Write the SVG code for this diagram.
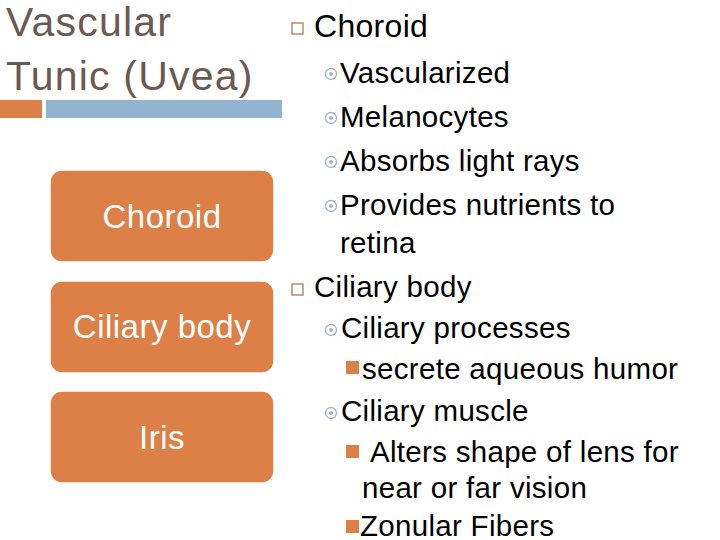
<svg xmlns="http://www.w3.org/2000/svg" width="720" height="540" viewBox="0 0 720 540">
<style>
text{font-family:"Liberation Sans",Arial,sans-serif;fill:#000}
.t{font-size:41px;fill:#6b5a53;letter-spacing:1.2px}
.box{fill:#dd8047;stroke:#fff;stroke-width:1.5}
.bl{font-size:33px;fill:#fff;letter-spacing:0.5px}
.l1{font-size:32px;letter-spacing:0.3px}
.l2{font-size:29.5px;letter-spacing:0.3px}
.sq1{fill:none;stroke:#b98a6c;stroke-width:1.5}
.cir{fill:none;stroke:#9db3c8;stroke-width:1.3}
.dot{fill:#9db3c8}
.sq3{fill:#dd8047}
</style>
<rect width="720" height="540" fill="#fff"/>
<text class="t" x="6" y="36">Vascular</text>
<text class="t" x="6" y="90">Tunic (Uvea)</text>
<rect x="0" y="100" width="42" height="18" fill="#dd8047"/>
<rect x="46" y="100" width="236" height="18" fill="#93b3d0"/>
<g id="n1"><rect class="box" x="50" y="170" width="224" height="92" rx="12"/><text class="bl" x="162" y="228" text-anchor="middle">Choroid</text></g>
<g id="n2"><rect class="box" x="50" y="281" width="224" height="92" rx="12"/><text class="bl" x="162" y="338" text-anchor="middle">Ciliary body</text></g>
<g id="n3"><rect class="box" x="50" y="391" width="224" height="92" rx="12"/><text class="bl" x="162" y="449" text-anchor="middle">Iris</text></g>
<g id="connectors"></g>
<g id="list">
<rect class="sq1" x="292" y="23" width="11" height="11"/><text class="l1" x="314" y="37">Choroid</text>
<circle class="cir" cx="331" cy="74" r="5.5"/><circle class="dot" cx="331" cy="74" r="2"/><text class="l2" x="340" y="83">Vascularized</text>
<circle class="cir" cx="331" cy="118" r="5.5"/><circle class="dot" cx="331" cy="118" r="2"/><text class="l2" x="340" y="127">Melanocytes</text>
<circle class="cir" cx="331" cy="162" r="5.5"/><circle class="dot" cx="331" cy="162" r="2"/><text class="l2" x="340" y="171">Absorbs light rays</text>
<circle class="cir" cx="331" cy="206" r="5.5"/><circle class="dot" cx="331" cy="206" r="2"/><text class="l2" x="340" y="215">Provides nutrients to</text>
<text class="l2" x="340" y="253">retina</text>
<rect class="sq1" x="292" y="284" width="11" height="11"/><text class="l2" x="314" y="297">Ciliary body</text>
<circle class="cir" cx="331" cy="330" r="5.5"/><circle class="dot" cx="331" cy="330" r="2"/><text class="l2" x="341" y="338">Ciliary processes</text>
<rect class="sq3" x="346" y="361" width="13" height="13"/><text class="l2" x="362" y="379">secrete aqueous humor</text>
<circle class="cir" cx="331" cy="413" r="5.5"/><circle class="dot" cx="331" cy="413" r="2"/><text class="l2" x="341" y="421">Ciliary muscle</text>
<rect class="sq3" x="346" y="445" width="13" height="13"/><text class="l2" x="370" y="462">Alters shape of lens for</text>
<text class="l2" x="362" y="498">near or far vision</text>
<rect class="sq3" x="346" y="520" width="13" height="13"/><text class="l2" x="360" y="536">Zonular Fibers</text>
</g>
</svg>
